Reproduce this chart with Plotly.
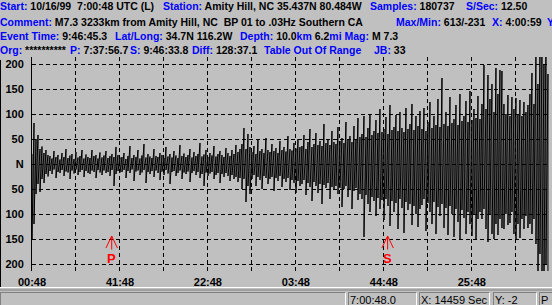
import plotly.graph_objects as go

# ---------------- data ----------------
span_s = 14459                      # X: 14459 Sec
col_step_s = 55.93                  # one envelope column ~ every 2 px of the trace
# waveform envelope (counts), one (hi, lo) pair per column, in segments
hi_onset = [20, 82, 50, 58, 30, 35, 22, 28, 18]
lo_onset = [-150, -120, -60, -40, -56, -30, -38, -20, -25]
hi_quiet = [16, 11, 26, 14, 18, 9, 22, 14, 30, 12, 17, 20, 10, 24, 13, 16, 28, 11, 19, 14,
            12, 28, 16, 18, 11, 23, 13, 17, 26, 12, 16, 20, 14, 34, 18, 13]
lo_quiet = [-14, -20, -11, -28, -16, -18, -12, -24, -15, -17, -30, -13, -19, -11, -22, -16, -12, -26, -14, -18,
            -20, -13, -16, -28, -12, -17, -22, -13, -18, -16, -24, -12, -44, -20, -14, -17]
hi_early = [14, 22, 10, 16, 36, 12, 18, 14, 28, 11, 17, 40, 13, 20, 15, 12, 30, 16, 14, 22,
            18, 12, 34, 15, 20, 13, 26, 17, 12, 38, 16, 21, 14, 18, 30, 13, 24, 16, 20, 42,
            15, 19, 28, 14, 22, 17, 36, 15, 20, 26, 18, 14, 32, 22, 16, 28, 20, 38, 24, 30]
lo_early = [-16, -12, -28, -14, -18, -11, -34, -15, -13, -22, -17, -12, -38, -16, -20, -14, -26, -13, -18, -32,
            -15, -22, -12, -19, -40, -16, -14, -24, -18, -13, -30, -17, -20, -15, -36, -18, -14, -22, -16, -28,
            -20, -44, -17, -24, -19, -16, -30, -22, -18, -38, -20, -26, -18, -24, -34, -22, -30, -26, -36, -28]
hi_burst = [40, 72, 30, 60, 34]
lo_burst = [-50, -30, -76, -44, -60]
hi_mid = [24, 36, 20, 48, 26, 30, 22, 52, 28, 24, 40, 26, 32, 22, 46, 28, 34, 25, 56, 30, 27, 42, 31, 50, 34]
lo_mid = [-30, -22, -44, -26, -32, -50, -24, -28, -40, -30, -26, -54, -28, -34, -24, -46, -30, -36, -28, -52,
          -32, -38, -58, -34, -44]
hi_grow = [36, 58, 30, 44, 70, 34, 40, 62, 38, 46, 36, 80, 42, 50, 38, 66, 44, 40, 74, 46,
           52, 42, 84, 48, 56, 44, 76, 50, 92, 54]
lo_grow = [-40, -32, -62, -38, -46, -74, -36, -44, -58, -40, -80, -42, -48, -38, -70, -46, -52, -44, -60, -48,
           -86, -50, -44, -66, -52, -90, -54, -48, -72, -60]
hi_s = [60, 96, 54, 72, 100, 58, 66, 88, 62, 110, 64, 70, 94, 60, 118, 68, 74, 98, 66, 104,
        72, 64, 112, 70, 80, 120, 68, 96, 76, 106]
lo_s = [-70, -146, -62, -80, -96, -66, -74, -104, -68, -90, -72, -112, -70, -84, -124, -74, -96, -78, -130, -70,
        -88, -138, -76, -92, -80, -122, -84, -100, -126, -90]
hi_late = [70, 112, 66, 84, 124, 72, 96, 78, 130, 74, 172, 80, 104, 76, 134, 82, 90, 118, 78, 140,
           86, 96, 126, 84, 146, 88, 110, 92, 136]
lo_late = [-82, -70, -134, -78, -96, -120, -76, -140, -86, -104, -80, -128, -88, -142, -84, -100, -146, -90,
           -116, -150, -92, -108, -140, -96, -120, -144, -100, -152, -110]
hi_surface = [90, 120, 198, 110, 178, 130, 160, 104, 192, 140, 188, 186, 120, 100, 138, 96, 134, 110, 132, 100,
              128, 96, 124, 104, 118, 140, 182, 120, 230, 160, 230, 230, 200, 230, 180]
lo_surface = [-96, -110, -90, -130, -156, -100, -140, -150, -120, -142, -110, -128, -130, -100, -122, -118, -96,
              -140, -152, -120, -148, -110, -130, -104, -128, -120, -140, -110, -160, -230, -180, -230, -230,
              -200, -230]

wave_hi = hi_onset + hi_quiet + hi_early + hi_burst + hi_mid + hi_grow + hi_s + hi_late + hi_surface
wave_lo = lo_onset + lo_quiet + lo_early + lo_burst + lo_mid + lo_grow + lo_s + lo_late + lo_surface
assert len(wave_hi) == len(wave_lo)

x_ticks_s = [0, 1230, 2460, 3690, 4920, 6150, 7380, 8610, 9840, 11070, 12300, 13530]
x_tick_text = ["00:48", "", "41:48", "", "22:48", "", "03:48", "", "44:48", "", "25:48", ""]
y_ticks = [200, 150, 100, 50, 0, -50, -100, -150, -200]
y_tick_text = ["200", "150", "100", "50", "N", "50", "100", "150", "200"]

p_time_s = 2228.7    # P: 7:37:56.7  (start 7:00:48)
s_time_s = 9945.8    # S: 9:46:33.8

header_rows = [
    [(0, [("Start:", "b"), (" 10/16/99\u00a0\u00a07:00:48 UTC (L)", "k")]),
     (163, [("Station:", "b"), (" Amity Hill, NC 35.437N 80.484W", "k")]),
     (370, [("Samples:", "b"), (" 180737", "k")]),
     (466, [("S/Sec:", "b"), (" 12.50", "k")])],
    [(0, [("Comment:", "b"), (" M7.3 3233km from Amity Hill, NC\u00a0\u00a0BP 01 to .03Hz Southern CA", "k")]),
     (396, [("Max/Min:", "b"), (" 613/-231", "k")]),
     (492, [("X:", "b"), (" 4:00:59", "k")]),
     (547, [("Y", "b")])],
    [(0, [("Event Time:", "b"), (" 9:46:45.3", "k")]),
     (115, [("Lat/Long:", "b"), (" 34.7N 116.2W", "k")]),
     (240, [("Depth:", "b"), (" 10.0", "k"), ("km", "b"), (" 6.2", "k"), ("mi", "b"),
            (" Mag:", "b"), (" M 7.3", "k")])],
    [(0, [("Org:", "b"), (" **********", "k")]),
     (70, [("P:", "b"), (" 7:37:56.7", "k")]),
     (130, [("S:", "b"), (" 9:46:33.8", "k")]),
     (192, [("Diff:", "b"), (" 128:37.1", "k")]),
     (264, [("Table Out Of Range", "b")]),
     (374, [("JB:", "b"), (" 33", "k")])],
]
header_row_y = [6.0, 22.5, 36.0, 49.8]

status_panels = [(0, 346, ""), (348, 417, "7:00:48.0"), (419, 490, "X: 14459 Sec"),
                 (493, 537, "Y: -2"), (539, 556, "P")]

# ---------------- layout geometry (px) ----------------
W, H = 552, 305
PL, PR, PT, PB = 32, 549, 57, 271
Y_HALF = 214
BG = "#C0C0C0"
BLUE = "#0000FF"


def xp(px):
    return (px - PL) / (PR - PL)


def yp(py):
    return (PB - py) / (PB - PT)


# waveform path: hi -> lo at each column, then next column
wx, wy = [], []
for i, (h, l) in enumerate(zip(wave_hi, wave_lo)):
    t = i * col_step_s
    wx += [t, t]
    wy += [h, l]

fig = go.Figure()
fig.add_trace(go.Scatter(x=wx, y=wy, mode="lines", line=dict(color="black", width=1),
                         hoverinfo="skip", showlegend=False))

# P / S arrows
for t in (p_time_s, s_time_s):
    fig.add_trace(go.Scatter(x=[t - 160, t, t + 160, None, t, t], y=[-168, -144, -168, None, -144, -171],
                             mode="lines", line=dict(color="#FF0000", width=1),
                             hoverinfo="skip", showlegend=False))

annotations = []
for label, t in (("P", p_time_s), ("S", s_time_s)):
    annotations.append(dict(x=t, y=-188, xref="x", yref="y", text=label, showarrow=False,
                            font=dict(family="Liberation Sans", size=13, color="#FF0000", weight="bold"),
                            xanchor="center", yanchor="middle", borderpad=0, borderwidth=0))

for row, py in zip(header_rows, header_row_y):
    for px, parts in row:
        txt = "".join(
            f'<span style="color:{BLUE if c == "b" else "black"}">{s}</span>' for s, c in parts)
        annotations.append(dict(x=xp(px), y=yp(py), xref="paper", yref="paper", text=txt,
                                showarrow=False, xanchor="left", yanchor="middle",
                                borderpad=0, borderwidth=0,
                                font=dict(family="Liberation Sans", size=10.5, weight="bold")))

shapes = []
# left window border
shapes.append(dict(type="line", xref="paper", yref="paper", x0=xp(0.5), x1=xp(0.5), y0=yp(60), y1=yp(287),
                   line=dict(color="black", width=1)))
# separator lines
shapes.append(dict(type="line", xref="paper", yref="paper", x0=xp(0), x1=xp(552), y0=yp(287.5), y1=yp(287.5),
                   line=dict(color="white", width=1)))
shapes.append(dict(type="line", xref="paper", yref="paper", x0=xp(0), x1=xp(552), y0=yp(290), y1=yp(290),
                   line=dict(color="#808080", width=1)))
top, bot = 292.5, 306
for x0, x1, txt in status_panels:
    shapes.append(dict(type="line", xref="paper", yref="paper", x0=xp(x0), x1=xp(x1), y0=yp(top), y1=yp(top),
                       line=dict(color="#808080", width=1)))
    shapes.append(dict(type="line", xref="paper", yref="paper", x0=xp(x0 + 0.5), x1=xp(x0 + 0.5), y0=yp(top), y1=yp(bot),
                       line=dict(color="#808080", width=1)))
    shapes.append(dict(type="line", xref="paper", yref="paper", x0=xp(x1 - 0.5), x1=xp(x1 - 0.5), y0=yp(top), y1=yp(bot),
                       line=dict(color="white", width=1)))
    if txt:
        annotations.append(dict(x=xp(x0 + 2), y=yp(299.5), xref="paper", yref="paper", text=txt,
                                showarrow=False, xanchor="left", yanchor="middle",
                                borderpad=0, borderwidth=0,
                                font=dict(family="Liberation Sans", size=11, color="black")))

fig.update_layout(
    width=W, height=H, autosize=False,
    margin=dict(l=PL, r=W - PR, t=PT, b=H - PB, pad=0),
    paper_bgcolor=BG, plot_bgcolor=BG,
    showlegend=False,
    xaxis=dict(range=[0, span_s], tickmode="array", tickvals=x_ticks_s, ticktext=x_tick_text,
               showgrid=True, gridcolor="black", gridwidth=1, griddash="4px,3px",
               zeroline=False, showline=False, ticks="", ticklabelstandoff=3,
               tickfont=dict(family="Liberation Sans", size=11, color="black", weight="bold"),
               fixedrange=True),
    yaxis=dict(range=[-Y_HALF, Y_HALF], tickmode="array", tickvals=y_ticks, ticktext=y_tick_text,
               showgrid=True, gridcolor="black", gridwidth=1, griddash="4px,3px",
               zeroline=False, showline=True, linecolor="black", linewidth=1,
               ticks="", ticklabelstandoff=5,
               tickfont=dict(family="Liberation Sans", size=11, color="black", weight="bold"),
               fixedrange=True),
    annotations=annotations,
    shapes=shapes,
)

fig.write_html("out.html")
